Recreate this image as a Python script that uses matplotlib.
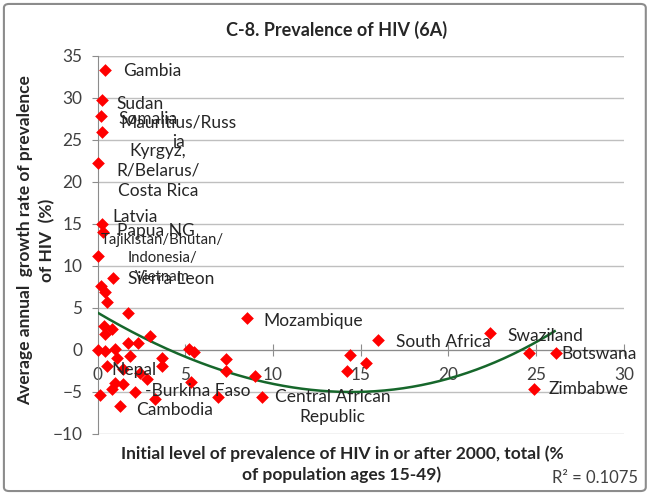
import numpy as np
import matplotlib
matplotlib.use("Agg")
import matplotlib.pyplot as plt
from matplotlib.patches import FancyBboxPatch

plt.rcParams['font.family'] = ['Lato', 'DejaVu Sans']

# initial HIV prevalence (% of pop 15-49) and annual growth rate of prevalence (%)
prev_x = [0.43, 0.24, 0.18, 0.24, 0.05, 0.24, 0.33, 0.05, 0.90, 0.20,
          0.43, 0.52, 1.76, 8.50, 0.38, 0.81, 0.43, 3.00, 1.76, 2.30,
          0.00, 0.43, 1.00, 1.86, 1.10, 0.52, 3.67, 3.67, 2.40, 1.47,
          1.00, 1.47, 0.81, 2.81, 2.14, 0.14, 3.29, 1.29, 5.20, 5.50,
          7.30, 7.30, 9.00, 5.30, 6.85, 9.40, 14.4, 14.2, 15.3, 16.0,
          22.35, 24.6, 26.1, 24.9]
growth_y = [33.3, 29.7, 27.9, 26.0, 22.3, 15.0, 14.1, 11.2, 8.6, 7.6,
            6.9, 5.7, 4.4, 3.8, 2.9, 2.5, 1.9, 1.7, 0.8, 0.8,
            0.0, -0.1, 0.1, -0.7, -0.9, -1.9, -0.9, -1.9, -2.7, -2.3,
            -3.9, -4.1, -4.6, -3.5, -5.0, -5.4, -5.8, -6.7, 0.1, -0.3,
            -1.1, -2.5, -3.1, -3.8, -5.6, -5.6, -0.6, -2.5, -1.5, 1.2,
            2.0, -0.4, -0.4, -4.6]

# data labels (centre of text block)
lab_text = ["Gambia", "Sudan", "Somalia", "Mauritius/Russ\nia",
            "Kyrgyz,\nR/Belarus/\nCosta Rica", "Latvia", "Papua NG",
            "Sierra Leon", "Mozambique", "South Africa", "Swaziland",
            "Botswana", "Zimbabwe", "Nepal", "-Burkina Faso", "Cambodia",
            "Central African\nRepublic"]
lab_x = [3.1, 2.4, 2.85, 4.6, 3.45, 2.15, 3.3, 4.2, 12.3, 19.7, 25.5,
         28.6, 28.0, 2.1, 5.7, 4.4, 13.4]
lab_y = [33.2, 29.3, 27.5, 25.9, 21.35, 15.8, 14.2, 8.45, 3.5, 1.0, 1.7,
         -0.5, -4.6, -2.35, -4.85, -7.2, -6.8]
small_lab = "Tajikistan/Bhutan/\nIndonesia/\nVietnam"
small_xy = (3.7, 10.9)

# cubic trendline
trend_coef = [4.45, -1.237, 0.0355, 0.000335]
trend_end = 26.05

fig = plt.figure(figsize=(6.51, 4.94), dpi=100)
ax = fig.add_axes([0.1498, 0.1215, 0.8087, 0.7652])

ax.set_xlim(0, 30)
ax.set_ylim(-10, 35)
ax.set_yticks(range(-10, 36, 5))
ax.set_xticks(range(0, 31, 5))
ax.yaxis.grid(True, color='#bfbfbf', lw=1)
ax.set_axisbelow(True)
for s in ['top', 'right']:
    ax.spines[s].set_visible(False)
ax.spines['left'].set_color('#8c8c8c')
ax.spines['bottom'].set_color('#8c8c8c')
ax.spines['bottom'].set_position(('data', 0))
ax.tick_params(axis='x', direction='inout', length=8, color='#8c8c8c',
               labelsize=12.4, labelcolor='#404040', pad=8)
ax.tick_params(axis='y', direction='out', length=4, color='#8c8c8c',
               labelsize=12.4, labelcolor='#404040', pad=7)
# top gridline at 35 (axes frame)
ax.axhline(35, color='#bfbfbf', lw=1, zorder=0)

tx = np.linspace(0, trend_end, 200)
ty = sum(c * tx ** i for i, c in enumerate(trend_coef))
ax.plot(tx, ty, color='#16672b', lw=1.8, zorder=3)

ax.scatter(prev_x, growth_y, marker='D', s=42, color='#ff0000', lw=0,
           zorder=4, clip_on=False)

for t, x, y in zip(lab_text, lab_x, lab_y):
    ax.text(x, y, t, ha='center', va='center', multialignment='center',
            fontsize=12.5, color='#262626', linespacing=1.3, zorder=5,
            clip_on=False)
ax.text(small_xy[0], small_xy[1], small_lab, ha='center', va='center',
        multialignment='center', fontsize=10.7, color='#262626',
        linespacing=1.4, zorder=5)

fig.text(337 / 651, 1 - 30 / 494, "C-8. Prevalence of HIV (6A)",
         ha='center', va='center', fontsize=13, fontweight='bold',
         color='#262626')
fig.text(36 / 651, 1 - 240 / 494,
         "Average annual  growth rate of prevalence\nof HIV  (%)",
         rotation=90, ha='center', va='center', multialignment='center',
         fontsize=12.5, fontweight='bold', color='#262626', linespacing=1.4)
fig.text(342 / 651, 1 - 464 / 494,
         "Initial level of prevalence of HIV in or after 2000, total (%\nof population ages 15-49)",
         ha='center', va='center', multialignment='center',
         fontsize=12.5, fontweight='bold', color='#262626', linespacing=1.3)
fig.text(638 / 651, 1 - 478 / 494, "R² = 0.1075", ha='right', va='center',
         fontsize=12, color='#404040')

fig.patches.append(FancyBboxPatch((0.006, 0.006), 0.986, 0.986,
                                  boxstyle="round,pad=0,rounding_size=0.008",
                                  transform=fig.transFigure, fc='none',
                                  ec='#8c8c8c', lw=1.5))

fig.savefig("out.png", dpi=100)
